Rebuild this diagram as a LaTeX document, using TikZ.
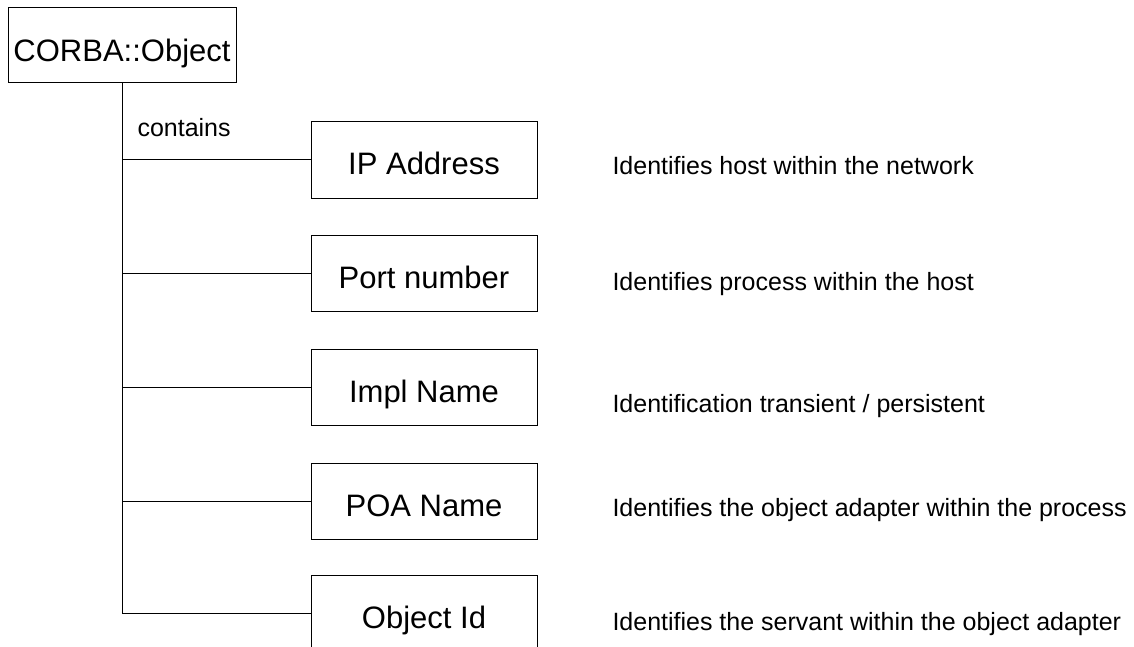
\documentclass[tikz,border=0pt]{standalone}
\usepackage{fontspec}
\setmainfont{Liberation Sans}
\begin{document}
\begin{tikzpicture}[x=1pt,y=-1pt,line width=1pt,
  box/.style={draw=black, fill=white, minimum width=226pt, minimum height=76pt,
    inner sep=0pt, text height=30pt, text depth=0pt,
    font=\fontsize{31}{37}\selectfont},
  rootbox/.style={box, minimum width=228pt, minimum height=75pt, text height=33pt},
  desc/.style={anchor=base west, inner sep=0pt, font=\fontsize{25}{30}\selectfont},
  link/.style={draw=black, line width=1pt}]
\useasboundingbox (0,0) rectangle (1134,647);
\clip (0,0) rectangle (1134,647);

% root object
\node[rootbox] (obj) at (122,45.5) {CORBA::Object};

% contained parts
\node[box] (ip)   at (424,160) {IP Address};
\node[box] (port) at (424,273) {Port number};
\node[box] (impl) at (424,387) {Impl Name};
\node[box] (poa)  at (424,501) {POA Name};
\node[box] (oid)  at (424,613) {Object Id};

% tree connectors
\coordinate (trunk) at (obj.south);
\draw[link] (trunk) |- (oid.west);
\foreach \n in {ip,port,impl,poa}
  \draw[link] (oid.west -| trunk) |- (\n.west);

\node[desc] (lbl) at (137,137) {contains};

% explanations
\node[desc] (dip)   at (612,175) {Identifies host within the network};
\node[desc] (dport) at (612,290) {Identifies process within the host};
\node[desc] (dimpl) at (612,412) {Identification transient / persistent};
\node[desc] (dpoa)  at (612,516) {Identifies the object adapter within the process};
\node[desc] (doid)  at (612,630) {Identifies the servant within the object adapter};
\end{tikzpicture}
\end{document}
